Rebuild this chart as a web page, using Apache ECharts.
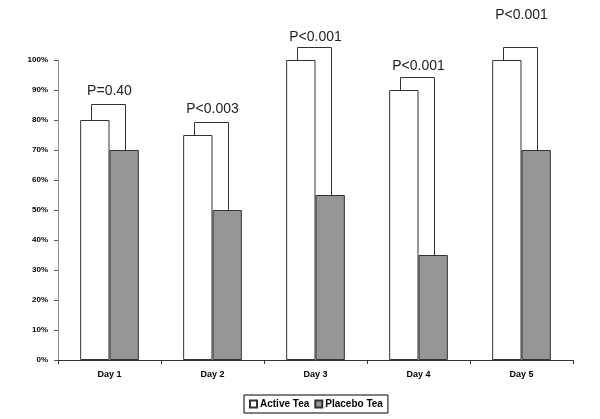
<!DOCTYPE html>
<html>
<head>
<meta charset="utf-8">
<script src="https://cdn.jsdelivr.net/npm/echarts@6/dist/echarts.min.js"></script>
<style>
  html, body { margin: 0; padding: 0; background: #fff; }
  #main { width: 600px; height: 419px; }
</style>
</head>
<body>
<div id="main"></div>
<script>
// data
var days = ["Day 1", "Day 2", "Day 3", "Day 4", "Day 5"];
var activeTea = [80, 75, 100, 90, 100];
var placeboTea = [70, 50, 55, 35, 70];
var pLabels = ["P=0.40", "P<0.003", "P<0.001", "P<0.001", "P<0.001"];
var bracketTop = [85.3, 79.3, 104.3, 94.3, 104.3]; // bracket level (%)
var labelLevel = [89.7, 83.7, 107.7, 98, 115];      // P label centre (%)

var font = "'Liberation Sans', Arial, sans-serif";

var bracketData = [];
days.forEach(function (d, i) {
    bracketData.push([i, activeTea[i], placeboTea[i], bracketTop[i], labelLevel[i]]);
});

var myChart = echarts.init(document.getElementById("main"));

myChart.setOption({
    animation: false,
    grid: { left: 58, right: 27, top: 60, bottom: 59 },
    legend: {
        data: ["Active Tea", "Placebo Tea"],
        left: 244,
        top: 395,
        padding: [4, 5, 4, 5],
        borderColor: "#000",
        borderWidth: 1,
        itemWidth: 7,
        itemHeight: 7,
        itemGap: 5,
        icon: "rect",
        textStyle: { fontFamily: font, fontSize: 10, fontWeight: "bold", color: "#000", padding: [0, 0, 0, -2] }
    },
    xAxis: {
        type: "category",
        data: days,
        axisLine: { lineStyle: { color: "#333", width: 1 } },
        axisTick: { show: true, length: 4, lineStyle: { color: "#333" } },
        axisLabel: { fontFamily: font, fontSize: 9, fontWeight: "bold", color: "#000", margin: 10 }
    },
    yAxis: {
        type: "value",
        min: 0,
        max: 100,
        interval: 10,
        axisLine: { show: true, lineStyle: { color: "#888", width: 1 } },
        axisTick: { show: true, length: 4, lineStyle: { color: "#555" } },
        splitLine: { show: false },
        axisLabel: { formatter: "{value}%", fontFamily: font, fontSize: 8, fontWeight: "bold", color: "#000", margin: 10 }
    },
    series: [
        {
            name: "Active Tea",
            type: "bar",
            data: activeTea,
            barGap: "0%",
            barCategoryGap: "43%",
            itemStyle: { color: "#fff", borderColor: "#333", borderWidth: 1 }
        },
        {
            name: "Placebo Tea",
            type: "bar",
            data: placeboTea,
            itemStyle: { color: "#969696", borderColor: "#333", borderWidth: 1 }
        },
        {
            name: "brackets",
            type: "custom",
            data: bracketData,
            encode: { x: 0, y: 3 },
            clip: false,
            silent: true,
            z: 5,
            renderItem: function (params, api) {
                var idx = api.value(0);
                var catW = api.size([1, 0])[0];
                var top = api.coord([idx, api.value(3)]);
                var aTop = api.coord([idx, api.value(1)]);
                var pTop = api.coord([idx, api.value(2)]);
                var lab = api.coord([idx, api.value(4)]);
                var cx = top[0];
                var xl = Math.round(cx - catW * 0.18) + 0.5;
                var xr = Math.round(cx + catW * 0.15) + 0.5;
                var yt = Math.round(top[1]) + 0.5;
                return {
                    type: "group",
                    children: [
                        {
                            type: "polyline",
                            shape: { points: [[xl, aTop[1]], [xl, yt], [xr, yt], [xr, pTop[1]]] },
                            style: { stroke: "#333", lineWidth: 1, fill: null }
                        },
                        {
                            type: "text",
                            x: cx,
                            y: lab[1],
                            style: {
                                text: pLabels[params.dataIndex],
                                fontFamily: font,
                                fontSize: 14,
                                fill: "#222",
                                align: "center",
                                verticalAlign: "middle"
                            }
                        }
                    ]
                };
            }
        }
    ]
});
</script>
</body>
</html>
